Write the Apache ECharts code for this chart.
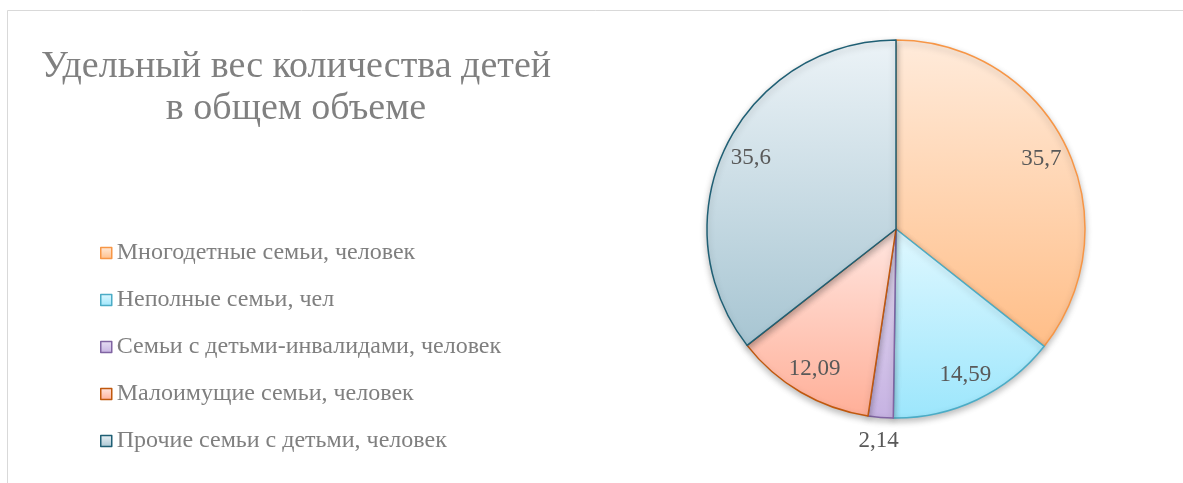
<!DOCTYPE html>
<html><head><meta charset="utf-8">
<script src="https://cdn.jsdelivr.net/npm/echarts@6/dist/echarts.min.js"></script>
<style>html,body{margin:0;padding:0;background:#fff}#c{width:1183px;height:483px}</style>
</head><body><div id="c"></div><script>
const titleText = 'Удельный вес количества детей\nв общем объеме';
const categories = ['Многодетные семьи, человек', 'Неполные семьи, чел', 'Семьи с детьми-инвалидами, человек', 'Малоимущие семьи, человек', 'Прочие семьи с детьми, человек'];
const values = [35.7, 14.59, 2.14, 12.09, 35.6];
const valueLabels = ['35,7', '14,59', '2,14', '12,09', '35,6'];
const labelOutside = [false, false, true, false, false];
const fillTop = ['#FFEBDB', '#E0F8FF', '#E7DFF3', '#FFE6E0', '#ECF3F7'];
const fillBottom = ['#FFBE88', '#9CE6FC', '#C6B2E2', '#FFAF98', '#A7C5D2'];
const borderColors = ['#F79646', '#4BACC6', '#8064A2', '#C0580D', '#1F5F74'];

const serif = '"Liberation Serif", "DejaVu Serif", serif';
const CX = 896, CY = 229, R = 189;

function grad(i) {
  return new echarts.graphic.LinearGradient(0, 0, 0, 1, [
    { offset: 0, color: fillTop[i] }, { offset: 1, color: fillBottom[i] }
  ]);
}

const mainData = categories.map((n, i) => ({
  name: n, value: values[i],
  itemStyle: { color: grad(i), borderColor: borderColors[i], borderWidth: 1.5 }
}));
const innerLabelData = categories.map((n, i) => ({
  name: n, value: values[i],
  label: { show: !labelOutside[i], formatter: valueLabels[i] }
}));
const outerLabelData = categories.map((n, i) => ({
  name: n, value: values[i],
  label: { show: labelOutside[i], formatter: valueLabels[i] }
}));
const labelStyleIn = { position: 'inside', fontFamily: serif, fontSize: 23, color: '#595959', rotate: 0, padding: [8, 0, 0, 0] };
const labelStyleOut = { position: 'inside', fontFamily: serif, fontSize: 23, color: '#595959', rotate: 0 };

const chart = echarts.init(document.getElementById('c'), null, { renderer: 'canvas' });
chart.setOption({
  animation: false,
  backgroundColor: '#fff',
  graphic: [
    { type: 'rect', silent: true, shape: { x: 7.5, y: 10.5, width: 1300, height: 600 },
      style: { fill: 'none', stroke: '#D9D9D9', lineWidth: 1 } },
    { type: 'text', silent: true, x: 296, y: 46,
      style: { text: titleText, fontFamily: serif, fontSize: 38, lineHeight: 42, fill: '#808080', align: 'center', verticalAlign: 'top' } }
  ],
  legend: {
    orient: 'vertical', left: 95, top: 236, itemGap: 23,
    icon: 'rect', itemWidth: 11, itemHeight: 11, selectedMode: false,
    textStyle: { fontFamily: serif, fontSize: 24, color: '#7F7F7F' },
    data: categories.map((n, i) => ({ name: n, itemStyle: { color: grad(i), borderColor: borderColors[i], borderWidth: 1.5 } }))
  },
  series: [
    { type: 'pie', name: 'main', radius: R, center: [CX, CY], startAngle: 90, clockwise: true,
      silent: true, label: { show: false }, labelLine: { show: false },
      itemStyle: { shadowBlur: 6, shadowOffsetY: 3, shadowColor: 'rgba(0,0,0,0.25)' },
      data: mainData },
    { type: 'pie', name: 'lblIn', radius: [128, R], center: [CX, CY], startAngle: 90, clockwise: true,
      silent: true, itemStyle: { color: 'rgba(0,0,0,0)', borderWidth: 0 },
      label: labelStyleIn, labelLine: { show: false }, data: innerLabelData },
    { type: 'pie', name: 'lblOut', radius: [R, 231], center: [CX, CY], startAngle: 90, clockwise: true,
      silent: true, itemStyle: { color: 'rgba(0,0,0,0)', borderWidth: 0 },
      label: labelStyleOut, labelLine: { show: false }, data: outerLabelData }
  ]
});
</script></body></html>
